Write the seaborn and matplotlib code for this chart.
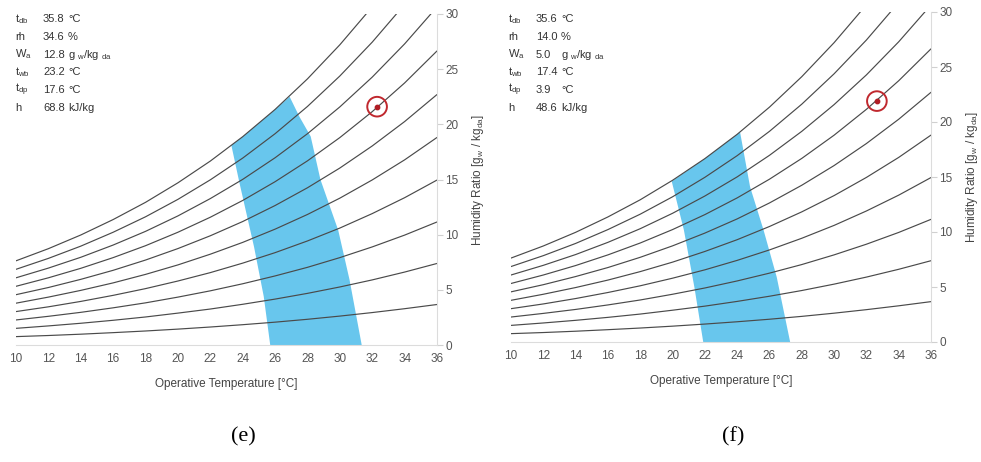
import pandas as pd
import matplotlib
matplotlib.use("Agg")
import matplotlib.pyplot as plt
import seaborn as sns

# Psychrometric chart data: humidity ratio [g/kg] of each rh curve at the x ticks
temps = [10, 12, 14, 16, 18, 20, 22, 24, 26, 28, 30, 32, 34, 36]
w_rh10 = [0.76, 0.86, 0.98, 1.12, 1.27, 1.44, 1.63, 1.84, 2.07, 2.33, 2.62, 2.94, 3.29, 3.67]
w_rh20 = [1.51, 1.73, 1.97, 2.24, 2.54, 2.89, 3.26, 3.69, 4.16, 4.68, 5.26, 5.90, 6.61, 7.39]
w_rh30 = [2.27, 2.60, 2.96, 3.37, 3.82, 4.34, 4.91, 5.55, 6.26, 7.04, 7.92, 8.89, 9.96, 11.15]
w_rh40 = [3.03, 3.46, 3.95, 4.50, 5.11, 5.80, 6.56, 7.42, 8.37, 9.43, 10.60, 11.91, 13.35, 14.95]
w_rh50 = [3.79, 4.34, 4.95, 5.63, 6.40, 7.26, 8.23, 9.30, 10.50, 11.83, 13.31, 14.96, 16.78, 18.81]
w_rh60 = [4.56, 5.21, 5.95, 6.77, 7.70, 8.74, 9.90, 11.19, 12.64, 14.25, 16.04, 18.04, 20.25, 22.70]
w_rh70 = [5.32, 6.09, 6.95, 7.92, 9.00, 10.22, 11.58, 13.10, 14.80, 16.69, 18.80, 21.15, 23.75, 26.65]
w_rh80 = [6.09, 6.97, 7.95, 9.06, 10.30, 11.70, 13.27, 15.01, 16.97, 19.15, 21.58, 24.28, 27.29, 30.64]
w_rh90 = [6.86, 7.85, 8.96, 10.22, 11.62, 13.20, 14.97, 16.94, 19.15, 21.62, 24.38, 27.45, 30.87, 34.69]
w_rh100 = [7.63, 8.73, 9.97, 11.37, 12.93, 14.70, 16.67, 18.88, 21.35, 24.12, 27.21, 30.65, 34.50, 38.78]
rh_levels = [10, 20, 30, 40, 50, 60, 70, 80, 90, 100]

# Comfort zones (polygons)
zone_e_t = [25.7, 25.3, 24.7, 23.8, 23.3, 24.0, 26.0, 26.9, 27.5, 28.2, 28.8, 29.9, 30.6, 31.35]
zone_e_w = [0.0, 4.4, 8.9, 14.7, 18.1, 18.88, 21.35, 22.5, 20.7, 18.9, 15.0, 10.4, 5.9, 0.0]
zone_f_t = [21.9, 21.35, 20.7, 19.95, 22.0, 24.0, 24.18, 24.8, 25.63, 26.45, 27.28]
zone_f_w = [0.0, 5.0, 10.2, 14.6, 16.67, 18.88, 19.08, 14.1, 10.2, 5.9, 0.0]

# Current conditions marker
point_e = (32.3, 21.6)
point_f = (32.65, 21.9)

# Info boxes
info_labels = [r"$\mathregular{t_{db}}$", "rh", r"$\mathregular{W_{a}}$",
               r"$\mathregular{t_{wb}}$", r"$\mathregular{t_{dp}}$", "h"]
info_e = ["35.8", "34.6", "12.8", "23.2", "17.6", "68.8"]
info_f = ["35.6", "14.0", "5.0", "17.4", "3.9", "48.6"]
info_units = ["°C", "%", r"g $\mathregular{_w}$/kg $\mathregular{_{da}}$", "°C", "°C", "kJ/kg"]

curves = [w_rh10, w_rh20, w_rh30, w_rh40, w_rh50, w_rh60, w_rh70, w_rh80, w_rh90, w_rh100]
df = pd.concat([pd.DataFrame({"t": temps, "w": w, "rh": rh})
                for w, rh in zip(curves, rh_levels)], ignore_index=True)

sns.set_theme(style="white")
plt.rcParams["font.family"] = ["Liberation Sans", "DejaVu Sans"]

W, H = 981, 462
fig = plt.figure(figsize=(W / 100, H / 100), dpi=100)


def px_rect(x0, x1, y0, y1):
    return [x0 / W, 1 - y1 / H, (x1 - x0) / W, (y1 - y0) / H]


panels = [
    (px_rect(16, 437, 14, 345), zone_e_t, zone_e_w, point_e, info_e, 15, 243, "(e)"),
    (px_rect(511, 931, 12, 342), zone_f_t, zone_f_w, point_f, info_f, 508, 733, "(f)"),
]

for rect, zt, zw, pt, info, info_x, tag_x, tag in panels:
    ax = fig.add_axes(rect)
    ax.fill(zt, zw, color="#68c6ed", lw=0, zorder=1)
    sns.lineplot(data=df, x="t", y="w", units="rh", estimator=None,
                 color="#4a4a4a", lw=0.85, ax=ax, zorder=2)
    ax.scatter([pt[0]], [pt[1]], s=200, facecolors="none", edgecolors="#c0282e",
               linewidths=1.4, zorder=3)
    ax.scatter([pt[0]], [pt[1]], s=10, color="#b01c24", zorder=4)

    ax.set_xlim(10, 36)
    ax.set_ylim(0, 30)
    ax.set_xticks(range(10, 37, 2))
    ax.set_yticks(range(0, 31, 5))
    ax.yaxis.tick_right()
    ax.yaxis.set_label_position("right")
    for s in ["top", "left"]:
        ax.spines[s].set_visible(False)
    for s in ["bottom", "right"]:
        ax.spines[s].set_color("#dcdcdc")
        ax.spines[s].set_linewidth(0.8)
    ax.tick_params(axis="both", colors="#d0d0d0", labelcolor="#555555",
                   labelsize=8.5, length=4, width=0.8, pad=2)
    ax.tick_params(axis="x", pad=2)
    ax.set_xlabel("Operative Temperature [°C]", fontsize=8.5, color="#444444", labelpad=9)
    ax.set_ylabel(r"Humidity Ratio [$\mathregular{g_w}$ / $\mathregular{kg_{da}}$]",
                  fontsize=8.5, color="#444444", labelpad=8)

    # info box in the upper left
    for i, (lab, val, unit) in enumerate(zip(info_labels, info, info_units)):
        y = 1 - (19 + i * 17.8) / H
        fig.text(info_x / W, y, lab, fontsize=8, color="#333333", va="center")
        fig.text((info_x + 28) / W, y, val, fontsize=8, color="#333333", va="center")
        fig.text((info_x + 53) / W, y, unit, fontsize=8, color="#333333", va="center")

    fig.text(tag_x / W, 1 - 437 / H, tag, fontsize=16, family="Liberation Serif",
             color="black", ha="center", va="center")

plt.savefig("out.png", dpi=100)
